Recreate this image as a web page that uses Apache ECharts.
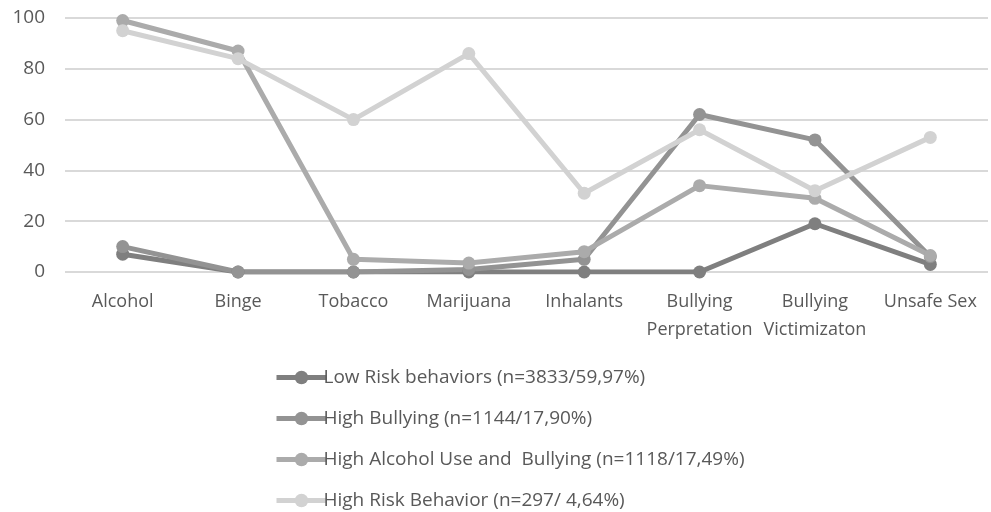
<!DOCTYPE html>
<html>
<head>
<meta charset="utf-8">
<script src="https://cdn.jsdelivr.net/npm/echarts@6/dist/echarts.min.js"></script>
<style>
  html, body { margin: 0; padding: 0; background: #fff; }
  #main { width: 991px; height: 512px; }
</style>
</head>
<body>
<div id="main"></div>
<script>
// categories on x axis
var categories = ['Alcohol', 'Binge', 'Tobacco', 'Marijuana', 'Inhalants',
  'Bullying\nPerpretation', 'Bullying\nVictimizaton', 'Unsafe Sex']

// profile values (%)
var lowRisk = [7, 0, 0, 0, 0, 0, 19, 3]
var highBullying = [10, 0, 0, 1, 5, 62, 52, 6]
var highAlcoholBullying = [99, 87, 5, 3.5, 8, 34, 29, 6.5]
var highRisk = [95, 84, 60, 86, 31, 56, 32, 53]

var seriesNames = [
  'Low Risk behaviors (n=3833/59,97%)',
  'High Bullying (n=1144/17,90%)',
  'High Alcohol Use and  Bullying (n=1118/17,49%)',
  'High Risk Behavior (n=297/ 4,64%)'
]
var colors = ['#7f7f7f', '#939393', '#ababab', '#d2d2d2']

var chart = echarts.init(document.getElementById('main'))

function mkSeries(name, data, i) {
  return {
    name: name,
    type: 'line',
    data: data,
    symbol: 'circle',
    symbolSize: 13,
    lineStyle: { width: 5, color: colors[i] },
    itemStyle: { color: colors[i] },
    animation: false
  }
}

var option = {
  color: colors,
  grid: { left: 65, right: 3, top: 18, bottom: 240 },
  xAxis: {
    type: 'category',
    data: categories,
    boundaryGap: true,
    axisLine: { show: false },
    axisTick: { show: false },
    axisLabel: {
      interval: 0,
      color: '#595959',
      fontFamily: 'Open Sans',
      fontSize: 18,
      lineHeight: 28,
      margin: 16
    }
  },
  yAxis: {
    type: 'value',
    min: 0,
    max: 100,
    interval: 20,
    axisLabel: {
      color: '#595959',
      fontFamily: 'Open Sans',
      fontSize: 19,
      margin: 20
    },
    splitLine: { lineStyle: { color: '#d9d9d9', width: 2 } }
  },
  legend: {
    orient: 'vertical',
    left: 269,
    top: 363,
    height: 160,
    itemWidth: 50,
    itemHeight: 17,
    itemGap: 22,
    lineStyle: { width: 5 },
    textStyle: { color: '#595959', fontFamily: 'Open Sans', fontSize: 19, padding: [0, 0, 0, -8] },
    data: seriesNames
  },
  series: [
    mkSeries(seriesNames[0], lowRisk, 0),
    mkSeries(seriesNames[1], highBullying, 1),
    mkSeries(seriesNames[2], highAlcoholBullying, 2),
    mkSeries(seriesNames[3], highRisk, 3)
  ]
}

chart.setOption(option)
</script>
</body>
</html>
